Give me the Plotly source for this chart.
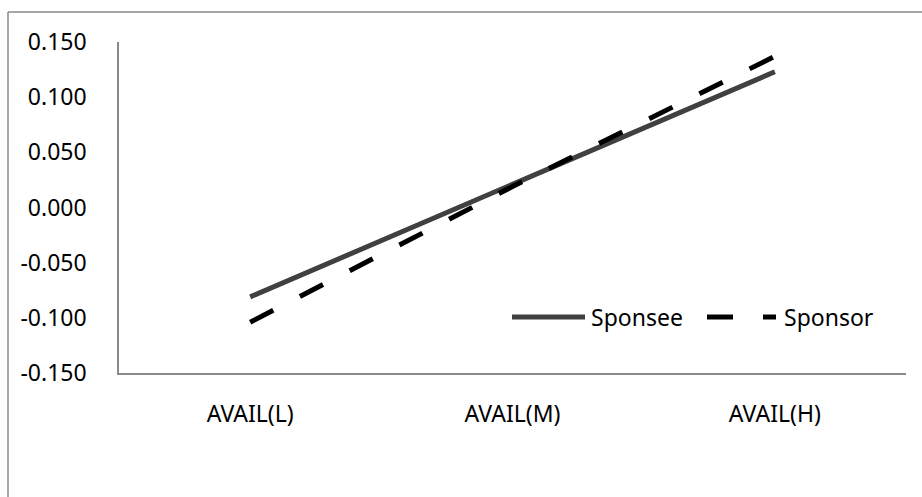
import plotly.graph_objects as go

# Category axis and the two series
categories = ["AVAIL(L)", "AVAIL(M)", "AVAIL(H)"]
sponsee = [-0.081, 0.021, 0.123]
sponsor = [-0.104, 0.019, 0.137]
y_ticks = [-0.150, -0.100, -0.050, 0.000, 0.050, 0.100, 0.150]

W, H = 922, 497
L, R, T, B = 119, 16, 42, 124
PW, PH = W - L - R, H - T - B

FONT = "Noto Sans, Open Sans, sans-serif"
AXIS_GREY = "#8a8a8a"
SPONSEE_COL = "#404040"
SPONSOR_COL = "#000000"
SPONSOR_DASH = "26px,30px"


def px(x):
    return (x - L) / PW


def py(y):
    return (H - B - y) / PH


fig = go.Figure()
fig.add_trace(go.Scatter(x=categories, y=sponsee, name="Sponsee", mode="lines",
                         line=dict(color=SPONSEE_COL, width=5)))
fig.add_trace(go.Scatter(x=categories, y=sponsor, name="Sponsor", mode="lines",
                         line=dict(color=SPONSOR_COL, width=5, dash=SPONSOR_DASH)))

fig.update_layout(
    width=W, height=H,
    margin=dict(l=L, r=R, t=T, b=B, autoexpand=False),
    paper_bgcolor="white", plot_bgcolor="white",
    showlegend=False,
    font=dict(family=FONT, size=23, color="#000000"),
)
fig.update_xaxes(
    type="category", range=[-0.5, 2.5],
    showgrid=False, zeroline=False,
    showline=True, linecolor=AXIS_GREY, linewidth=1.5,
    ticks="", ticklabelstandoff=20,
    tickfont=dict(family=FONT, size=23),
)
fig.update_yaxes(
    range=[-0.15, 0.15],
    tickvals=y_ticks, ticktext=[f"{v:.3f}" for v in y_ticks],
    showgrid=False, zeroline=False,
    showline=True, linecolor=AXIS_GREY, linewidth=1.5,
    ticks="", ticklabelstandoff=26,
    tickfont=dict(family=FONT, size=23),
)

# Chart-area border: top and left edges (the rest falls outside the page)
border = dict(color=AXIS_GREY, width=1.5)
fig.add_shape(type="line", xref="paper", yref="paper",
              x0=px(8), x1=px(W + 40), y0=py(12), y1=py(12), line=border, layer="below")
fig.add_shape(type="line", xref="paper", yref="paper",
              x0=px(8), x1=px(8), y0=py(12), y1=py(H + 40), line=border, layer="below")

# Legend drawn inside the plot area
leg_y = py(317)
fig.add_shape(type="line", xref="paper", yref="paper",
              x0=px(512), x1=px(585), y0=leg_y, y1=leg_y,
              line=dict(color=SPONSEE_COL, width=5))
fig.add_shape(type="line", xref="paper", yref="paper",
              x0=px(707), x1=px(776), y0=leg_y, y1=leg_y,
              line=dict(color=SPONSOR_COL, width=5, dash=SPONSOR_DASH))
fig.add_annotation(xref="paper", yref="paper", x=px(589), y=leg_y,
                   text="Sponsee", showarrow=False, xanchor="left", yanchor="middle",
                   font=dict(family=FONT, size=23))
fig.add_annotation(xref="paper", yref="paper", x=px(782), y=leg_y,
                   text="Sponsor", showarrow=False, xanchor="left", yanchor="middle",
                   font=dict(family=FONT, size=23))

fig.write_html("out.html")
